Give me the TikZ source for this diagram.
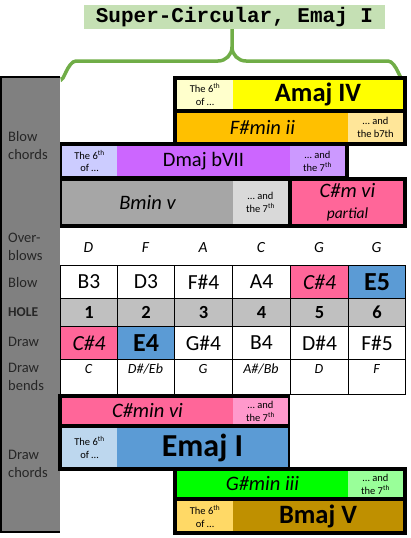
\documentclass[tikz,border=0pt]{standalone}
\usepackage{fontspec}
\setmainfont{Carlito}
\newfontfamily\codefont{Liberation Mono}
\definecolor{cleft}{HTML}{808080}
\definecolor{cbrace}{HTML}{70AD47}
\definecolor{ctitle}{HTML}{C5E0B4}
\definecolor{cyellow}{HTML}{FFFF00}
\definecolor{clyellow}{HTML}{FFFFCC}
\definecolor{corange}{HTML}{FFC000}
\definecolor{clorange}{HTML}{FFE699}
\definecolor{cpurple}{HTML}{CC66FF}
\definecolor{clavender}{HTML}{CCCCFF}
\definecolor{clpurple}{HTML}{CC99FF}
\definecolor{cgrey}{HTML}{A6A6A6}
\definecolor{clgrey}{HTML}{D9D9D9}
\definecolor{cpink}{HTML}{FF6699}
\definecolor{clpink}{HTML}{FF99CC}
\definecolor{cblue}{HTML}{5B9BD5}
\definecolor{clblue}{HTML}{BDD7EE}
\definecolor{cgreen}{HTML}{00FF00}
\definecolor{clgreen}{HTML}{99FF99}
\definecolor{cgold}{HTML}{BF9000}
\definecolor{clgold}{HTML}{FFD966}
\definecolor{chole}{HTML}{C0C0C0}
\tikzset{
  blockframe/.style={fill=black, anchor=north west, inner sep=0pt, outer sep=0pt},
  cell/.style n args={3}{fill=#1, minimum width=#2pt, minimum height=#3pt, anchor=north west, inner sep=0pt, outer sep=0pt, align=center},
  note/.style={font=\fontsize{10.5}{13}\selectfont},
  chord/.style={font=\fontsize{20.5}{24}\selectfont\itshape},
  plainchord/.style={font=\fontsize{20.5}{24}\selectfont},
  bigchord/.style={font=\fontsize{26.5}{30}\selectfont\bfseries},
  side/.style={font=\fontsize{14.5}{18}\selectfont, text=black!85, align=left, anchor=west, inner sep=0pt},
  tcell/.style 2 args={draw=black, line width=1pt, minimum width=#1pt, minimum height=#2pt, anchor=north west, inner sep=0pt, font=\fontsize{21.5}{24}\selectfont},
  hipink/.style={fill=cpink, font=\fontsize{21.5}{24}\selectfont\itshape},
  hiblue/.style={fill=cblue, font=\fontsize{26}{28}\selectfont\bfseries},
  over/.style={font=\fontsize{15.5}{18}\selectfont\itshape},
  bendtext/.style={font=\fontsize{14}{16}\selectfont\itshape},
  brace/.style={draw=cbrace, line width=3.5pt},
}
\begin{document}
\begin{tikzpicture}[x=1pt, y=-1pt]
  \useasboundingbox (0,0) rectangle (411,538);
  % title and brace
  \node[fill=ctitle, minimum width=301pt, minimum height=24pt, inner sep=0pt,
        font=\codefont\bfseries\fontsize{21}{24}\selectfont] (title) at (234.5,17) {Super-Circular, Emaj I};
  \coordinate (tip) at (232,29);
  \draw[brace] (62,77) to[out=-90,in=180] (76,61) -- (218,61) to[out=0,in=-90] (232,47) -- (tip);
  \draw[brace] (402,77) to[out=-90,in=0] (388,61) -- (246,61) to[out=180,in=-90] (232,47);
  % left column
  \node[cell={cleft}{60}{457}] (leftcol) at (0,76) {};
  \draw[line width=2pt] (leftcol.north east) ++(0,1) -| ([xshift=1pt]leftcol.south west) ++(0,-1) -- ([yshift=1pt]leftcol.south east);
  \node[side] (lblowch) at (8,146) {Blow\\chords};
  \node[side] (lover) at (8,247) {Over-\\blows};
  \node[side] (lblow) at (8,283) {Blow};
  \node[side, font=\fontsize{13.5}{18}\selectfont\bfseries] (lhole) at (8,312) {HOLE};
  \node[side] (ldraw) at (8,342) {Draw};
  \node[side] (lbend) at (8,377) {Draw\\bends};
  \node[side] (ldrawch) at (8,464) {Draw\\chords};
  % blow chords
  \node[blockframe, minimum width=234pt, minimum height=70pt] (frameA) at (173,76) {};
  \node[cell={clyellow}{56}{29}, note] (sixA) at (177,80) {The 6\textsuperscript{th}\\of \dots};
  \node[cell={cyellow}{170}{29}, bigchord] (amaj) at (233,80) {Amaj IV};
  \node[cell={corange}{171}{29}, chord] (fsmin) at (177,113) {F\#min ii};
  \node[cell={clorange}{55}{29}, note] (sevA) at (348,113) {\dots\ and\\the b7th};
  \node[blockframe, minimum width=289pt, minimum height=37pt] (frameD) at (60,142) {};
  \node[blockframe, minimum width=347pt, minimum height=51pt] (frameB) at (60,177) {};
  \node[cell={clavender}{55}{30}, note] (sixD) at (62,146) {The 6\textsuperscript{th}\\of \dots};
  \node[cell={cpurple}{173}{30}, plainchord] (dmaj) at (117,146) {Dmaj bVII};
  \node[cell={clpurple}{55}{30}, note] (sevD) at (290,146) {\dots\ and\\the 7\textsuperscript{th}};
  \node[cell={cgrey}{171}{43}, chord] (bmin) at (62,181) {Bmin v};
  \node[cell={clgrey}{55}{43}, note] (sevB) at (233,181) {\dots\ and\\the 7\textsuperscript{th}};
  \node[cell={cpink}{111}{43}, chord] (csm) at (292,181) {C\#m vi\\[-3pt]{\fontsize{15.5}{18}\selectfont partial}};
  % overblows
  \foreach \i/\x/\w/\t in {1/60/57/D, 2/117/57/F, 3/174/58/A, 4/232/58/C, 5/290/58/G, 6/348/57/G}
    \node[over] (over\i) at (\x+\w/2,248) {\t};
  % blow row
  \node[tcell={57}{33}] (blow1) at (60,265) {B3};
  \node[tcell={57}{33}] (blow2) at (117,265) {D3};
  \node[tcell={58}{33}] (blow3) at (174,265) {F\#4};
  \node[tcell={58}{33}] (blow4) at (232,265) {A4};
  \node[tcell={58}{33}, hipink] (blow5) at (290,265) {C\#4};
  \node[tcell={57}{33}, hiblue] (blow6) at (348,265) {E5};
  % hole row
  \foreach \i/\x/\w in {1/60/57, 2/117/57, 3/174/58, 4/232/58, 5/290/58, 6/348/57}
    \node[tcell={\w}{28}, fill=chole, font=\fontsize{18.5}{20}\selectfont\bfseries] (hole\i) at (\x,298) {\i};
  % draw row
  \node[tcell={57}{33}, hipink] (draw1) at (60,326) {C\#4};
  \node[tcell={57}{33}, hiblue] (draw2) at (117,326) {E4};
  \node[tcell={58}{33}] (draw3) at (174,326) {G\#4};
  \node[tcell={58}{33}] (draw4) at (232,326) {B4};
  \node[tcell={58}{33}] (draw5) at (290,326) {D\#4};
  \node[tcell={57}{33}] (draw6) at (348,326) {F\#5};
  % draw bends
  \foreach \i/\x/\w/\t in {1/60/57/C, 2/117/57/D\#\slash Eb, 3/174/58/G, 4/232/58/A\#\slash Bb, 5/290/58/D, 6/348/57/F} {
    \node[tcell={\w}{35}] (bend\i) at (\x,359) {};
    \node[bendtext] (bendt\i) at (\x+\w/2,369) {\t};
  }
  % draw chords
  \node[blockframe, minimum width=232pt, minimum height=77pt] (frameC) at (58,394) {};
  \node[cell={cpink}{171}{26}, chord] (csmin) at (62,398) {C\#min vi};
  \node[cell={clpink}{55}{26}, note] (sevC) at (233,398) {\dots\ and\\the 7\textsuperscript{th}};
  \node[cell={clblue}{55}{39}, note] (sixE) at (62,428) {The 6\textsuperscript{th}\\of \dots};
  \node[cell={cblue}{171}{39}, font=\fontsize{32}{34}\selectfont\bfseries] (emaj) at (117,428) {Emaj I};
  \node[blockframe, minimum width=234pt, minimum height=68pt] (frameG) at (173,467) {};
  \node[cell={cgreen}{171}{26}, chord] (gsmin) at (177,471) {G\#min iii};
  \node[cell={clgreen}{55}{26}, note] (sevG) at (348,471) {\dots\ and\\the 7\textsuperscript{th}};
  \node[cell={clgold}{56}{30}, note] (sixB) at (177,501) {The 6\textsuperscript{th}\\of \dots};
  \node[cell={cgold}{170}{30}, bigchord] (bmaj) at (233,501) {Bmaj V};
\end{tikzpicture}
\end{document}
